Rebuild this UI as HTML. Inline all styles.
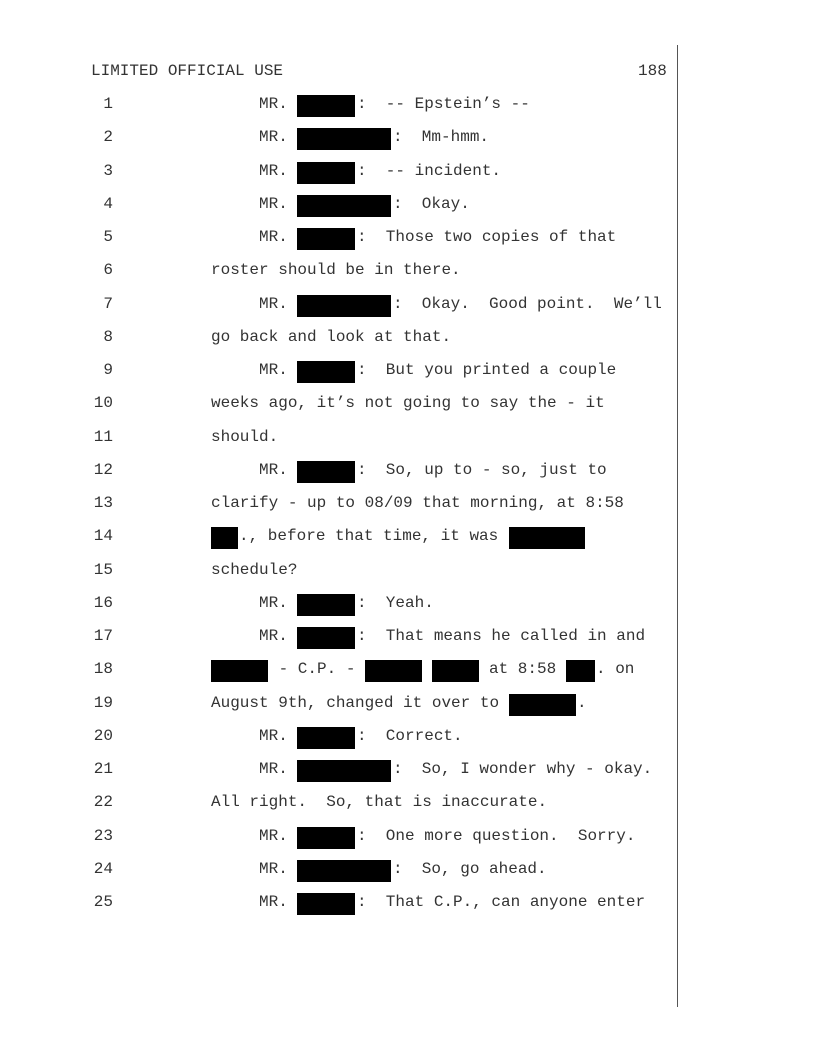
<!DOCTYPE html>
<html><head><meta charset="utf-8"><style>
body{margin:0;background:#fff;}
#p{position:relative;width:816px;height:1056px;overflow:hidden;font-family:"Liberation Mono",monospace;font-size:16px;color:#333;}
.t{position:absolute;white-space:pre;line-height:20px;}
.b{position:absolute;background:#000;height:22px;}
.n{position:absolute;width:40px;left:73px;text-align:right;white-space:pre;line-height:20px;}
#vl{position:absolute;left:677px;top:45px;width:1px;height:962px;background:#555;}
</style></head><body><div id="p">
<div id="vl"></div>
<div class="t" style="left:91px;top:61px">LIMITED OFFICIAL USE</div>
<div class="t" style="left:638px;top:61px">188</div>
<div id="c"></div>
</div>
<script>
var c=document.getElementById('p');
function T(x,y,s){var d=document.createElement('div');d.className='t';d.style.left=x+'px';d.style.top=y+'px';d.textContent=s;c.appendChild(d);}
function B(x1,x2,y){var d=document.createElement('div');d.className='b';d.style.left=x1+'px';d.style.width=(x2-x1)+'px';d.style.top=(y+1)+'px';c.appendChild(d);}
function Y(i){return Math.round(94+33.25*(i-1));}
for(var i=1;i<=25;i++){var d=document.createElement('div');d.className='n';d.style.top=Y(i)+'px';d.textContent=i;c.appendChild(d);}
function MR(i,long,txt){var y=Y(i);T(259,y,'MR.');var e=long?391:355;B(297,e,y);T(e+2,y,':  '+txt);}
MR(1,0,'-- Epstein\u2019s --');
MR(2,1,'Mm-hmm.');
MR(3,0,'-- incident.');
MR(4,1,'Okay.');
MR(5,0,'Those two copies of that');
T(211,Y(6),'roster should be in there.');
MR(7,1,'Okay.  Good point.  We\u2019ll');
T(211,Y(8),'go back and look at that.');
MR(9,0,'But you printed a couple');
T(211,Y(10),'weeks ago, it\u2019s not going to say the - it');
T(211,Y(11),'should.');
MR(12,0,'So, up to - so, just to');
T(211,Y(13),'clarify - up to 08/09 that morning, at 8:58');
B(211,238,Y(14));T(239,Y(14),'., before that time, it was');B(509,585,Y(14));
T(211,Y(15),'schedule?');
MR(16,0,'Yeah.');
MR(17,0,'That means he called in and');
var y=Y(18);B(211,268,y);T(269,y,' - C.P. - ');B(365,422,y);B(432,479,y);T(489,y,'at 8:58');B(566,595,y);T(596,y,'. on');
y=Y(19);T(211,y,'August 9th, changed it over to');B(509,576,y);T(577,y,'.');
MR(20,0,'Correct.');
MR(21,1,'So, I wonder why - okay.');
T(211,Y(22),'All right.  So, that is inaccurate.');
MR(23,0,'One more question.  Sorry.');
MR(24,1,'So, go ahead.');
MR(25,0,'That C.P., can anyone enter');
</script>
</body></html>
